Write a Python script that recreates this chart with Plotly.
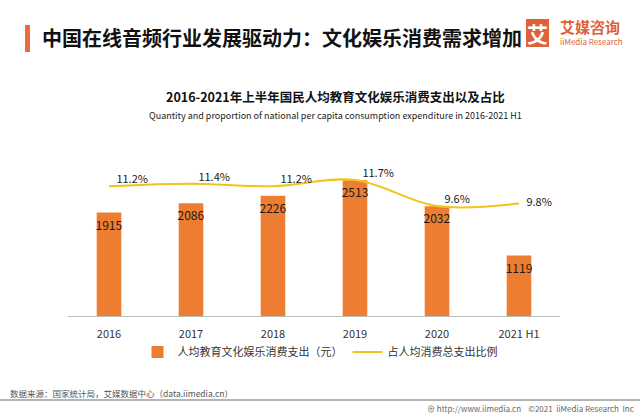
import plotly.graph_objects as go

categories = ["2016", "2017", "2018", "2019", "2020", "2021 H1"]
spend = [1915, 2086, 2226, 2513, 2032, 1119]
share = [11.2, 11.4, 11.2, 11.7, 9.6, 9.8]
share_labels = ["11.2%", "11.4%", "11.2%", "11.7%", "9.6%", "9.8%"]

FONT = "Noto Sans CJK SC"
W, H = 640, 416

def py(y):
    return 1 - y / H

def px(x):
    return x / W

fig = go.Figure()
fig.add_trace(go.Bar(
    x=categories, y=spend, name="人均教育文化娱乐消费支出（元）",
    marker=dict(color="#ED7D31", line=dict(width=0)),
    text=[str(v) for v in spend], textposition="inside", insidetextanchor="end",
    textangle=0, constraintext="none",
    textfont=dict(family=FONT, size=12, color="#1a1a1a"),
    yaxis="y", cliponaxis=False,
))
fig.add_trace(go.Scatter(
    x=categories, y=share, name="占人均消费总支出比例",
    mode="lines+text", line=dict(color="#F2C318", width=2, shape="spline", smoothing=1),
    text=["   " + s for s in share_labels],
    textposition=["top right"] * 5 + ["middle right"],
    textfont=dict(family=FONT, size=11, color="#1a1a1a"),
    yaxis="y2", cliponaxis=False,
))

fig.update_layout(
    width=W, height=H, margin=dict(l=0, r=0, t=0, b=0),
    paper_bgcolor="white", plot_bgcolor="white",
    bargap=0.7, showlegend=True,
    font=dict(family=FONT, color="#222"),
    xaxis=dict(domain=[px(68), px(560)], type="category",
               showline=True, linecolor="#BFBFBF", linewidth=1,
               ticks="", showgrid=False, ticklabelstandoff=8,
               tickfont=dict(family=FONT, size=11, color="#333")),
    yaxis=dict(domain=[py(316), py(150)], range=[0, 3074], visible=False,
               showgrid=False, zeroline=False),
    yaxis2=dict(overlaying="y", range=[0.73, 14.12], visible=False,
                showgrid=False, zeroline=False),
    legend=dict(orientation="h", x=0.5, xanchor="center", y=py(352), yanchor="middle",
                font=dict(family=FONT, size=11, color="#333"),
                itemwidth=30, tracegroupgap=0, bgcolor="rgba(0,0,0,0)"),
)

shapes = [
    dict(type="rect", xref="paper", yref="paper", x0=px(25), x1=px(30), y0=py(52), y1=py(25),
         fillcolor="#EE6A3C", line=dict(width=0)),
    dict(type="rect", xref="paper", yref="paper", x0=px(526), x1=px(549), y0=py(47), y1=py(19),
         fillcolor="#E0603A", line=dict(width=0)),
    dict(type="line", xref="paper", yref="paper", x0=0, x1=1, y0=py(400), y1=py(400),
         line=dict(color="#9A9A9A", width=1.5)),
]
fig.update_layout(shapes=shapes)

ann = [
    dict(text="中国在线音频行业发展驱动力：文化娱乐消费需求增加", x=px(40), y=py(37),
         xanchor="left", yanchor="middle",
         font=dict(size=20, color="#111", family=FONT, weight=600)),
    dict(text="<b>艾</b>", x=px(537.5), y=py(33), xanchor="center", yanchor="middle",
         font=dict(size=21, color="white", family=FONT)),
    dict(text="艾媒咨询", x=px(558), y=py(27), xanchor="left", yanchor="middle",
         font=dict(size=15, color="#E0603A", family=FONT, weight=600)),
    dict(text="iiMedia Research", x=px(558), y=py(42), xanchor="left", yanchor="middle",
         font=dict(size=8, color="#E0603A", family=FONT)),
    dict(text="<b>2016-2021年上半年国民人均教育文化娱乐消费支出以及占比</b>", x=px(335), y=py(96),
         xanchor="center", yanchor="middle", font=dict(size=12.5, color="#111", family=FONT)),
    dict(text="Quantity and proportion of national per capita consumption expenditure in 2016-2021 H1",
         x=px(335), y=py(115), xanchor="center", yanchor="middle",
         font=dict(size=9, color="#222", family=FONT)),
    dict(text="数据来源：国家统计局，艾媒数据中心（data.iimedia.cn）", x=px(8), y=py(393),
         xanchor="left", yanchor="middle", font=dict(size=8.5, color="#555", family=FONT)),
    dict(text="⊕ http://www.iimedia.cn    ©2021  iiMedia Research  Inc", x=px(636), y=py(408),
         xanchor="right", yanchor="middle", font=dict(size=8, color="#666", family=FONT)),
]
for a in ann:
    a.update(xref="paper", yref="paper", showarrow=False)
fig.update_layout(annotations=ann)

fig.write_html("out.html")
